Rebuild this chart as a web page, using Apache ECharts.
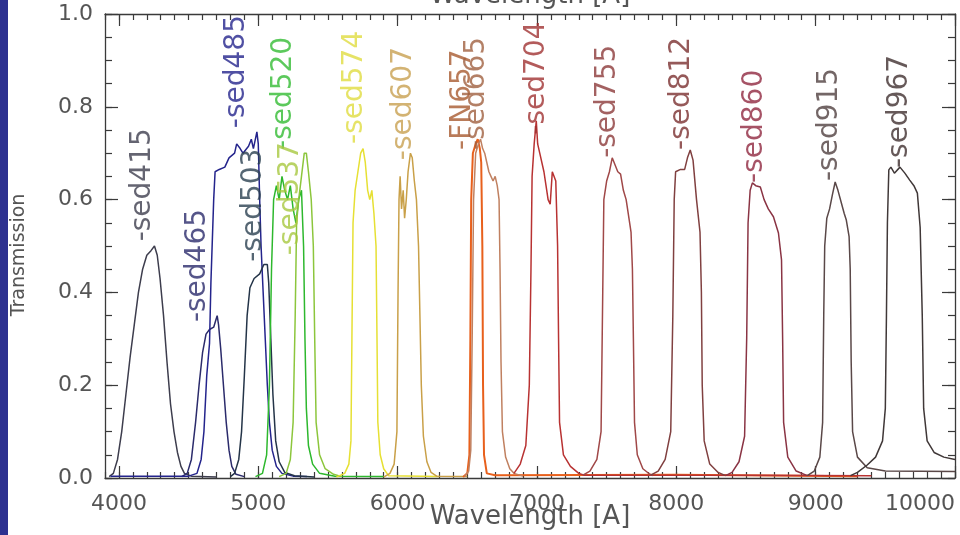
<!DOCTYPE html>
<html><head><meta charset="utf-8">
<script src="https://cdn.jsdelivr.net/npm/echarts@6/dist/echarts.min.js"></script>
<style>html,body{margin:0;padding:0;background:#fff}#c{width:960px;height:535px}</style>
</head><body><div id="c"></div>
<script>
// ---------------- DATA ----------------
const filterNames = ['sed415','sed465','sed485','sed503','sed520','sed537','sed574','sed607','FN657','sed665','sed704','sed755','sed812','sed860','sed915','sed967'];

const sed415 = [[3930,0.003],[3960,0.01],[3990,0.04],[4020,0.1],[4050,0.18],[4080,0.26],[4110,0.33],[4140,0.4],[4170,0.45],[4200,0.48],[4230,0.49],[4255,0.5],[4275,0.48],[4295,0.43],[4320,0.35],[4345,0.25],[4370,0.16],[4395,0.1],[4420,0.055],[4445,0.025],[4470,0.01],[4520,0.004],[4700,0.002]];
const sed465 = [[4450,0.003],[4490,0.01],[4520,0.04],[4550,0.12],[4575,0.2],[4600,0.27],[4625,0.31],[4650,0.32],[4680,0.325],[4695,0.34],[4705,0.35],[4715,0.33],[4730,0.28],[4750,0.2],[4770,0.12],[4790,0.06],[4810,0.025],[4840,0.008],[4900,0.003]];
const sed485 = [[3940,0.004],[4300,0.004],[4500,0.004],[4560,0.01],[4590,0.04],[4610,0.1],[4630,0.22],[4650,0.29],[4660,0.42],[4680,0.6],[4690,0.66],[4720,0.665],[4760,0.67],[4790,0.69],[4830,0.70],[4845,0.72],[4870,0.71],[4890,0.70],[4930,0.715],[4950,0.73],[4965,0.71],[4990,0.746],[5000,0.72],[5010,0.6],[5020,0.5],[5035,0.4],[5050,0.3],[5065,0.2],[5080,0.12],[5100,0.06],[5130,0.025],[5170,0.01],[5250,0.004],[5350,0.003]];
const sed503 = [[4800,0.003],[4830,0.01],[4860,0.04],[4880,0.1],[4900,0.22],[4920,0.35],[4940,0.41],[4970,0.43],[5010,0.44],[5040,0.46],[5065,0.46],[5075,0.42],[5090,0.3],[5105,0.18],[5125,0.08],[5150,0.035],[5190,0.012],[5260,0.005],[5400,0.002]];
const sed520 = [[4980,0.003],[5030,0.01],[5060,0.05],[5080,0.2],[5095,0.45],[5110,0.6],[5130,0.63],[5150,0.6],[5170,0.65],[5190,0.62],[5210,0.6],[5230,0.63],[5250,0.58],[5270,0.55],[5290,0.6],[5310,0.62],[5325,0.5],[5335,0.3],[5345,0.15],[5360,0.07],[5390,0.03],[5440,0.01],[5550,0.004],[5900,0.003]];
const sed537 = [[5150,0.003],[5200,0.01],[5230,0.04],[5250,0.12],[5265,0.35],[5275,0.55],[5290,0.6],[5310,0.65],[5330,0.7],[5345,0.7],[5360,0.66],[5380,0.6],[5395,0.5],[5405,0.3],[5415,0.12],[5440,0.05],[5480,0.02],[5540,0.008],[5600,0.003]];
const sed574 = [[5560,0.002],[5620,0.01],[5650,0.03],[5665,0.08],[5672,0.3],[5680,0.55],[5695,0.62],[5715,0.66],[5735,0.7],[5752,0.71],[5768,0.68],[5785,0.62],[5800,0.6],[5815,0.62],[5830,0.57],[5845,0.5],[5852,0.3],[5858,0.12],[5875,0.05],[5900,0.02],[5935,0.005],[6300,0.003]];
const sed607 = [[5900,0.002],[5945,0.01],[5975,0.03],[5995,0.1],[6003,0.4],[6010,0.6],[6018,0.65],[6028,0.58],[6040,0.62],[6050,0.56],[6062,0.6],[6075,0.66],[6092,0.7],[6105,0.69],[6120,0.64],[6135,0.6],[6150,0.5],[6160,0.35],[6170,0.2],[6185,0.09],[6210,0.035],[6240,0.012],[6280,0.004],[6500,0.003]];
const FN657 = [[6470,0.002],[6500,0.01],[6515,0.05],[6522,0.3],[6528,0.6],[6540,0.7],[6560,0.72],[6575,0.73],[6590,0.71],[6600,0.68],[6608,0.5],[6613,0.2],[6620,0.05],[6640,0.01],[6700,0.006],[8000,0.007],[9300,0.004]];
const sed665 = [[6480,0.003],[6510,0.015],[6525,0.06],[6535,0.3],[6545,0.6],[6560,0.7],[6580,0.72],[6595,0.73],[6610,0.71],[6625,0.7],[6640,0.68],[6655,0.66],[6670,0.65],[6685,0.64],[6700,0.65],[6715,0.63],[6728,0.6],[6735,0.45],[6742,0.25],[6752,0.1],[6775,0.045],[6805,0.02],[6835,0.01],[6900,0.004]];
const sed704 = [[6835,0.01],[6880,0.03],[6920,0.07],[6945,0.2],[6957,0.45],[6965,0.65],[6980,0.72],[6995,0.77],[7005,0.72],[7020,0.7],[7050,0.66],[7065,0.63],[7080,0.6],[7095,0.59],[7110,0.66],[7135,0.64],[7148,0.5],[7155,0.3],[7162,0.12],[7190,0.05],[7240,0.025],[7300,0.01],[7340,0.006],[8500,0.006],[9400,0.005]];
const sed755 = [[7330,0.006],[7380,0.015],[7430,0.04],[7460,0.1],[7472,0.4],[7480,0.6],[7500,0.64],[7520,0.66],[7540,0.69],[7552,0.69],[7580,0.66],[7600,0.655],[7620,0.62],[7640,0.6],[7660,0.56],[7675,0.53],[7685,0.45],[7692,0.3],[7700,0.12],[7720,0.05],[7760,0.02],[7810,0.008],[7830,0.005]];
const sed812 = [[7816,0.006],[7870,0.015],[7920,0.04],[7960,0.1],[7975,0.35],[7985,0.6],[7995,0.66],[8030,0.665],[8060,0.665],[8080,0.69],[8100,0.707],[8120,0.685],[8145,0.6],[8170,0.53],[8180,0.4],[8186,0.2],[8200,0.08],[8240,0.03],[8300,0.012],[8353,0.005]];
const sed860 = [[8353,0.005],[8400,0.012],[8450,0.035],[8490,0.09],[8505,0.3],[8515,0.55],[8530,0.62],[8546,0.636],[8570,0.63],[8603,0.627],[8630,0.6],[8660,0.58],[8697,0.563],[8733,0.528],[8755,0.47],[8763,0.3],[8770,0.12],[8800,0.045],[8860,0.015],[8940,0.005]];
const sed915 = [[8940,0.005],[8990,0.015],[9030,0.045],[9050,0.12],[9058,0.35],[9065,0.5],[9080,0.56],[9100,0.58],[9120,0.61],[9140,0.638],[9160,0.62],[9185,0.592],[9205,0.57],[9220,0.556],[9240,0.52],[9248,0.45],[9255,0.25],[9265,0.1],[9300,0.045],[9370,0.022],[9500,0.015],[10000,0.014]];
const sed967 = [[9250,0.005],[9300,0.012],[9370,0.028],[9430,0.045],[9480,0.08],[9500,0.15],[9508,0.35],[9515,0.55],[9525,0.664],[9540,0.67],[9565,0.657],[9605,0.67],[9640,0.657],[9675,0.642],[9705,0.63],[9730,0.614],[9750,0.54],[9765,0.35],[9775,0.15],[9800,0.08],[9850,0.055],[9920,0.045],[10000,0.04]];

const labelWave  = [4172, 4566, 4845, 4967, 5181, 5232, 5690, 6047, 6470, 6570, 7000, 7508, 8038, 8560, 9098, 9606];
const labelLevel = [0.51, 0.336, 0.754, 0.466, 0.707, 0.48, 0.72, 0.685, 0.707, 0.707, 0.74, 0.69, 0.707, 0.636, 0.64, 0.668];

const xTickLabels = [4000, 5000, 6000, 7000, 8000, 9000, 10000];
const yTickLabels = [0, 0.2, 0.4, 0.6, 0.8, 1.0];

// ---------------- STYLE ----------------
const curves = [sed415, sed465, sed485, sed503, sed520, sed537, sed574, sed607, FN657, sed665, sed704, sed755, sed812, sed860, sed915, sed967];
const lineColors  = ['#3d3d4d','#2b2b6b','#24248c','#243448','#2db82d','#8cc63c','#e6e033','#c9a048','#e8601c','#c08060','#b83232','#a04848','#804040','#8a3444','#5a4848','#403838'];
const labelColors = ['#3d3d4d','#2b2b6b','#24248c','#2a4050','#33bb33','#a8c840','#e0dc40','#c8a050','#a85a30','#a06040','#a03232','#8c3a3a','#7a3030','#902840','#504040','#403030'];
const AX = '#3a3a3a';
const FONT = 'DejaVu Sans';
const TXT = '#555555';

const chart = echarts.init(document.getElementById('c'));

function xAxisDef(pos, major, extra) {
  return Object.assign({
    type: 'value', position: pos, min: 3900, max: 10000,
    axisLine: { show: false, onZero: false },
    splitLine: { show: false },
    axisLabel: { show: false },
    axisTick: major
      ? { inside: true, length: 12, customValues: xTickLabels, lineStyle: { color: AX, width: 1.2 } }
      : { inside: true, length: 6, lineStyle: { color: AX, width: 1.2 } }
  }, major ? {} : { interval: 100 }, extra || {});
}
function yAxisDef(pos, major, extra) {
  return Object.assign({
    type: 'value', position: pos, min: 0, max: 1,
    axisLine: { show: false, onZero: false },
    splitLine: { show: false },
    axisLabel: { show: false },
    axisTick: major
      ? { inside: true, length: 13, customValues: yTickLabels, lineStyle: { color: AX, width: 1.2 } }
      : { inside: true, length: 7, lineStyle: { color: AX, width: 1.2 } }
  }, major ? {} : { interval: 0.05 }, extra || {});
}

const series = curves.map((d, i) => ({
  type: 'line', name: filterNames[i], data: d,
  xAxisIndex: 0, yAxisIndex: 0,
  showSymbol: false, symbol: 'none', silent: true,
  lineStyle: { color: lineColors[i], width: i === 8 ? 2 : 1.5 },
  z: 2
}));

series.push({
  type: 'scatter', xAxisIndex: 0, yAxisIndex: 0, symbolSize: 0, silent: true, z: 5,
  data: labelWave.map((w, i) => ({
    name: '-' + filterNames[i], value: [w, labelLevel[i]],
    label: { color: labelColors[i] }
  })),
  label: {
    show: true, formatter: p => p.name, rotate: 90, position: 'top', distance: 0,
    align: 'left', verticalAlign: 'middle', fontSize: 28, fontFamily: FONT
  }
});

chart.setOption({
  animation: false,
  backgroundColor: '#ffffff',
  grid: { left: 105, right: 5, top: 14, bottom: 57, containLabel: false, outerBoundsMode: 'none' },
  graphic: [{ type: 'rect', left: 0, top: 0, shape: { width: 8, height: 535 }, style: { fill: '#2d3190' }, z: 100 }],
  xAxis: [
    xAxisDef('bottom', false, {
      axisLine: { show: true, onZero: false, lineStyle: { color: AX, width: 1.3 } },
      axisLabel: { show: true, customValues: xTickLabels, formatter: v => String(v), margin: 15, fontSize: 22, color: TXT, fontFamily: FONT, alignMinLabel: 'center', alignMaxLabel: 'right' },
      name: 'Wavelength [A]', nameLocation: 'middle', nameGap: 26, nameMoveOverlap: false,
      nameTextStyle: { fontSize: 26, color: TXT, fontFamily: FONT }
    }),
    xAxisDef('bottom', true),
    xAxisDef('top', false, {
      axisLine: { show: true, onZero: false, lineStyle: { color: AX, width: 1.3 } },
      name: 'Wavelength [A]', nameLocation: 'middle', nameGap: 5, nameMoveOverlap: false,
      nameTextStyle: { fontSize: 26, color: TXT, fontFamily: FONT }
    }),
    xAxisDef('top', true)
  ],
  yAxis: [
    yAxisDef('left', false, {
      axisLine: { show: true, onZero: false, lineStyle: { color: AX, width: 1.3 } },
      axisLabel: { show: true, customValues: yTickLabels, margin: 12, fontSize: 22, color: TXT, fontFamily: FONT, formatter: v => v.toFixed(1) },
      name: 'Transmission', nameLocation: 'middle', nameGap: 76, nameMoveOverlap: false,
      nameTextStyle: { fontSize: 19, color: TXT, fontFamily: FONT, padding: [0, 18, 0, 0] }
    }),
    yAxisDef('left', true),
    yAxisDef('right', false, { axisLine: { show: true, onZero: false, lineStyle: { color: AX, width: 1.3 } } }),
    yAxisDef('right', true)
  ],
  series: series
});
</script>
</body></html>
